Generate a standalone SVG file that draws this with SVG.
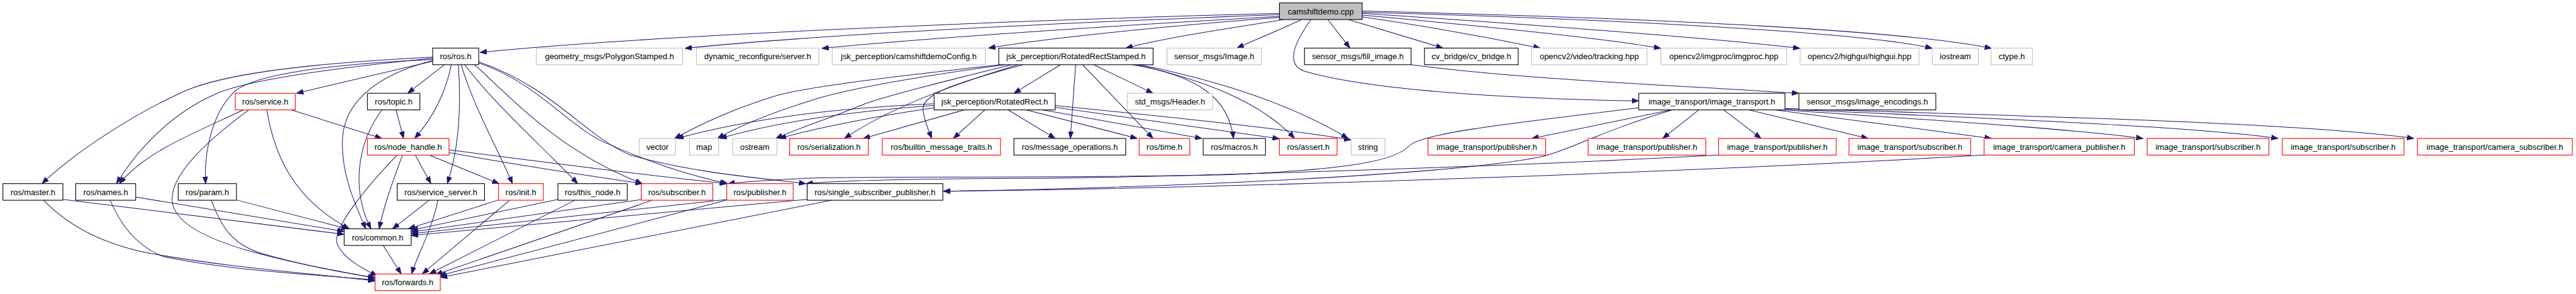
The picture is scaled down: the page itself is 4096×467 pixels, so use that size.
<svg xmlns="http://www.w3.org/2000/svg" width="4096" height="467" viewBox="0 0 4096 467">
<style>
.n rect{fill:#ffffff;stroke-width:1.2}
.blk rect{stroke:#000000}
.red rect{stroke:#ff0000}
.gry rect{stroke:#bfbfbf}
.root rect{fill:#bfbfbf;stroke:#000000}
.n text{font-family:"Liberation Sans",Arial,sans-serif;font-size:14px;fill:#000000;text-anchor:middle}
.e path{fill:none;stroke:#191970;stroke-width:1.1;marker-end:url(#ah)}
</style>
<defs>
<marker id="ah" viewBox="0 0 12 9" refX="12" refY="4.5" markerWidth="12" markerHeight="9" orient="auto" markerUnits="userSpaceOnUse">
<path d="M0,0 L12,4.5 L0,9 z" fill="#191970" stroke="#191970" stroke-width="0.8"/>
</marker>
</defs>
<rect x="0" y="0" width="4096" height="467" fill="#ffffff"/>
<g transform="scale(0.926)">
<g id="connectors" class="e">
<path d="M2197,23 C1700,36 1100,62 824,90"/>
<path d="M2197,25 C1800,40 1400,60 1176,83"/>
<path d="M2197,28 C1900,45 1600,65 1411,83"/>
<path d="M2197,30 C2000,45 1800,65 1697,82.5"/>
<path d="M2205,33.5 C2100,50 2000,65 1933,82.5"/>
<path d="M2235,33.5 C2190,55 2150,70 2124,82.5"/>
<path d="M2251,33.5 C2225,70 2205,110 2240,122 C2350,155 2600,170 2814,173"/>
<path d="M2280,33.5 L2318,82.5"/>
<path d="M2315,33.5 L2478,82.5"/>
<path d="M2339,29 C2450,45 2560,65 2645,82.5"/>
<path d="M2339,26 C2550,45 2750,65 2852,83"/>
<path d="M2339,23 C2600,40 2950,66 3091,83"/>
<path d="M2339,21 C2750,32 3200,55 3318,83"/>
<path d="M2339,19 C2800,30 3260,50 3420,83"/>
<path d="M2423,111 C2600,135 2850,145 3089,160"/>
<path d="M743,98 C500,110 380,130 320,155 C230,195 130,260 72,315"/>
<path d="M743,100 C560,118 430,138 378,158 C300,190 240,250 200,315"/>
<path d="M743,102 C560,110 440,128 405,155 C365,190 350,260 353,315"/>
<path d="M743,105 L509,160"/>
<path d="M763,111 L700,160"/>
<path d="M775,111 C765,160 745,200 712,237.5"/>
<path d="M743,104 C640,130 590,180 588,240 C586,300 610,350 628,392.5"/>
<path d="M787,111 C792,180 790,250 768,315"/>
<path d="M792,111 C812,180 852,250 880,315"/>
<path d="M798,111 C850,180 930,250 992,315"/>
<path d="M815,111 C880,170 960,260 1103,315"/>
<path d="M822,108 C920,140 980,220 1040,245 C1120,280 1180,300 1250,315"/>
<path d="M822,106 C950,150 1000,230 1080,265 C1180,295 1300,305 1384,315"/>
<path d="M418,188.5 C330,230 250,260 205,315"/>
<path d="M427,188.5 C330,260 280,320 300,360 C330,420 500,450 644,477"/>
<path d="M458,188.5 C470,260 500,340 600,392.5"/>
<path d="M500,188.5 L656,237.5"/>
<path d="M656,188.5 C610,250 605,330 637,392.5"/>
<path d="M680,188.5 L693,237.5"/>
<path d="M682,266 C620,330 575,390 578,415 C585,440 620,460 648,473"/>
<path d="M691,266 C675,310 660,350 651,392.5"/>
<path d="M713,266 L740,315"/>
<path d="M737,266 L857,315"/>
<path d="M771,262 C900,285 1000,300 1103,315"/>
<path d="M771,257 C950,280 1100,300 1248,315"/>
<path d="M108,342 L591,402"/>
<path d="M75,343.5 C120,390 180,420 260,435 C400,460 550,470 644,482"/>
<path d="M233,338 L591,397"/>
<path d="M189,343.5 C205,380 230,420 280,440 C400,465 550,472 644,480"/>
<path d="M406,343 L598,393"/>
<path d="M363,343.5 C380,390 400,420 450,435 C520,455 590,468 644,476"/>
<path d="M737,343.5 L674,392.5"/>
<path d="M752,343.5 C740,400 715,440 707,470"/>
<path d="M856,343 L701,392.5"/>
<path d="M875,343.5 L725,470"/>
<path d="M958,342 L706,395"/>
<path d="M987,343.5 L737,470"/>
<path d="M1103,342 L706,398"/>
<path d="M1120,343.5 L748,471"/>
<path d="M1249,342 L706,401"/>
<path d="M1247,343.5 L754,473"/>
<path d="M1386,342 L706,404"/>
<path d="M1428,343.5 L756,476"/>
<path d="M658,421 L689,470"/>
<path d="M1717,111 C1500,135 1380,150 1330,165 C1250,190 1200,215 1158,237.5"/>
<path d="M1725,111 C1550,135 1450,155 1400,170 C1320,195 1270,215 1232,237.5"/>
<path d="M1737,111 C1620,140 1520,165 1480,180 C1420,205 1370,220 1332,237.5"/>
<path d="M1748,111 C1620,150 1520,190 1450,237.5"/>
<path d="M1757,111 C1650,140 1580,160 1585,190 C1588,210 1595,225 1600,237.5"/>
<path d="M1821,111 L1741,160"/>
<path d="M1847,111 L1838,237.5"/>
<path d="M1859,111 L1980,237.5"/>
<path d="M1878,111 L1980,160"/>
<path d="M1944,111 C2060,130 2110,170 2118,237.5"/>
<path d="M1951,111 C2080,140 2170,180 2223,237.5"/>
<path d="M1957,111 C2100,140 2220,180 2315,237.5"/>
<path d="M1604,178 C1450,185 1300,200 1162,237.5"/>
<path d="M1604,181 C1450,192 1330,210 1236,237.5"/>
<path d="M1604,185 C1500,200 1400,220 1338,237.5"/>
<path d="M1656,188.5 L1482,237.5"/>
<path d="M1691,188.5 L1637,237.5"/>
<path d="M1731,188.5 L1812,237.5"/>
<path d="M1762,188.5 L1953,237.5"/>
<path d="M1790,188.5 L2064,237.5"/>
<path d="M1812,184 L2197,238"/>
<path d="M1812,181 C2000,200 2200,220 2320,240"/>
<path d="M2870,188.5 L2630,237.5"/>
<path d="M2917,188.5 L2855,237.5"/>
<path d="M2960,188.5 L3024,237.5"/>
<path d="M3003,188.5 L3208,237.5"/>
<path d="M3047,188.5 L3420,237.5"/>
<path d="M3062,188.5 C3300,205 3550,220 3680,237.5"/>
<path d="M3065,187 C3400,203 3750,215 3912,237.5"/>
<path d="M3065,186 C3500,200 3950,210 4145,237.5"/>
<path d="M2814,185 C2560,215 2440,230 2420,250 C2395,278 2300,292 2100,300 C1800,306 1450,302 1380,306 C1320,309 1280,311 1250,315"/>
<path d="M2951,266 C2600,285 2000,305 1750,306 C1550,307 1440,310 1384,315"/>
<path d="M2870,189 C2750,225 2700,255 2650,268 C2500,300 2000,322 1620,328"/>
<path d="M3407,266 C3000,290 2200,322 1620,328"/>
</g>
<g id="n_camshiftdemo" class="n root"><rect x="2197" y="5" width="142" height="28.5"/><text x="2268" y="24.5">camshiftdemo.cpp</text></g>
<g id="n_ros_ros" class="n blk"><rect x="743" y="82.5" width="79" height="28.5"/><text x="782.5" y="102">ros/ros.h</text></g>
<g id="n_polygonstamped" class="n gry"><rect x="921" y="82.5" width="251" height="28.5"/><text x="1046.5" y="102">geometry_msgs/PolygonStamped.h</text></g>
<g id="n_dynreconf" class="n gry"><rect x="1196" y="82.5" width="210" height="28.5"/><text x="1301" y="102">dynamic_reconfigure/server.h</text></g>
<g id="n_camshiftconfig" class="n gry"><rect x="1429" y="82.5" width="263" height="28.5"/><text x="1560.5" y="102">jsk_perception/camshiftdemoConfig.h</text></g>
<g id="n_rrstamped" class="n blk"><rect x="1715" y="82.5" width="265" height="28.5"/><text x="1847.5" y="102">jsk_perception/RotatedRectStamped.h</text></g>
<g id="n_image" class="n gry"><rect x="2004" y="82.5" width="162" height="28.5"/><text x="2085" y="102">sensor_msgs/Image.h</text></g>
<g id="n_fillimage" class="n blk"><rect x="2240" y="82.5" width="183" height="28.5"/><text x="2331.5" y="102">sensor_msgs/fill_image.h</text></g>
<g id="n_cvbridge" class="n blk"><rect x="2446" y="82.5" width="161" height="28.5"/><text x="2526.5" y="102">cv_bridge/cv_bridge.h</text></g>
<g id="n_tracking" class="n gry"><rect x="2630" y="82.5" width="198" height="28.5"/><text x="2729" y="102">opencv2/video/tracking.hpp</text></g>
<g id="n_imgproc" class="n gry"><rect x="2852" y="82.5" width="216" height="28.5"/><text x="2960" y="102">opencv2/imgproc/imgproc.hpp</text></g>
<g id="n_highgui" class="n gry"><rect x="3091" y="82.5" width="204" height="28.5"/><text x="3193" y="102">opencv2/highgui/highgui.hpp</text></g>
<g id="n_iostream" class="n gry"><rect x="3318" y="82.5" width="79" height="28.5"/><text x="3357.5" y="102">iostream</text></g>
<g id="n_ctype" class="n gry"><rect x="3419" y="82.5" width="71" height="28.5"/><text x="3454.5" y="102">ctype.h</text></g>
<g id="n_service" class="n red"><rect x="404" y="160" width="103" height="28.5"/><text x="455.5" y="179.5">ros/service.h</text></g>
<g id="n_topic" class="n blk"><rect x="631" y="160" width="90" height="28.5"/><text x="676" y="179.5">ros/topic.h</text></g>
<g id="n_rotatedrect" class="n blk"><rect x="1604" y="160" width="208" height="28.5"/><text x="1708" y="179.5">jsk_perception/RotatedRect.h</text></g>
<g id="n_header" class="n gry"><rect x="1936" y="160" width="146" height="28.5"/><text x="2009" y="179.5">std_msgs/Header.h</text></g>
<g id="n_imagetransport" class="n blk"><rect x="2814" y="160" width="251" height="28.5"/><text x="2939.5" y="179.5">image_transport/image_transport.h</text></g>
<g id="n_encodings" class="n blk"><rect x="3089" y="160" width="235" height="28.5"/><text x="3206.5" y="179.5">sensor_msgs/image_encodings.h</text></g>
<g id="n_nodehandle" class="n red"><rect x="631" y="237.5" width="140" height="28.5"/><text x="701" y="257">ros/node_handle.h</text></g>
<g id="n_vector" class="n gry"><rect x="1098" y="237.5" width="62" height="28.5"/><text x="1129" y="257">vector</text></g>
<g id="n_map" class="n gry"><rect x="1184" y="237.5" width="50" height="28.5"/><text x="1209" y="257">map</text></g>
<g id="n_ostream" class="n gry"><rect x="1258" y="237.5" width="76" height="28.5"/><text x="1296" y="257">ostream</text></g>
<g id="n_serialization" class="n red"><rect x="1356" y="237.5" width="135" height="28.5"/><text x="1423.5" y="257">ros/serialization.h</text></g>
<g id="n_builtin" class="n red"><rect x="1515" y="237.5" width="203" height="28.5"/><text x="1616.5" y="257">ros/builtin_message_traits.h</text></g>
<g id="n_msgops" class="n blk"><rect x="1741" y="237.5" width="192" height="28.5"/><text x="1837" y="257">ros/message_operations.h</text></g>
<g id="n_time" class="n red"><rect x="1956" y="237.5" width="87" height="28.5"/><text x="1999.5" y="257">ros/time.h</text></g>
<g id="n_macros" class="n blk"><rect x="2066" y="237.5" width="107" height="28.5"/><text x="2119.5" y="257">ros/macros.h</text></g>
<g id="n_assert" class="n red"><rect x="2197" y="237.5" width="99" height="28.5"/><text x="2246.5" y="257">ros/assert.h</text></g>
<g id="n_string" class="n gry"><rect x="2320" y="237.5" width="58" height="28.5"/><text x="2349" y="257">string</text></g>
<g id="n_itpub1" class="n red"><rect x="2452" y="237.5" width="202" height="28.5"/><text x="2553" y="257">image_transport/publisher.h</text></g>
<g id="n_itpub2" class="n red"><rect x="2727" y="237.5" width="202" height="28.5"/><text x="2828" y="257">image_transport/publisher.h</text></g>
<g id="n_itpub3" class="n red"><rect x="2951" y="237.5" width="202" height="28.5"/><text x="3052" y="257">image_transport/publisher.h</text></g>
<g id="n_itsub1" class="n red"><rect x="3175" y="237.5" width="209" height="28.5"/><text x="3279.5" y="257">image_transport/subscriber.h</text></g>
<g id="n_itcampub" class="n red"><rect x="3407" y="237.5" width="258" height="28.5"/><text x="3536" y="257">image_transport/camera_publisher.h</text></g>
<g id="n_itsub2" class="n red"><rect x="3687" y="237.5" width="209" height="28.5"/><text x="3791.5" y="257">image_transport/subscriber.h</text></g>
<g id="n_itsub3" class="n red"><rect x="3919" y="237.5" width="209" height="28.5"/><text x="4023.5" y="257">image_transport/subscriber.h</text></g>
<g id="n_itcamsub" class="n red"><rect x="4151" y="237.5" width="266" height="28.5"/><text x="4284" y="257">image_transport/camera_subscriber.h</text></g>
<g id="n_master" class="n blk"><rect x="5" y="315" width="103" height="28.5"/><text x="56.5" y="334.5">ros/master.h</text></g>
<g id="n_names" class="n blk"><rect x="130" y="315" width="103" height="28.5"/><text x="181.5" y="334.5">ros/names.h</text></g>
<g id="n_param" class="n blk"><rect x="306" y="315" width="100" height="28.5"/><text x="356" y="334.5">ros/param.h</text></g>
<g id="n_serviceserver" class="n blk"><rect x="682" y="315" width="150" height="28.5"/><text x="757" y="334.5">ros/service_server.h</text></g>
<g id="n_init" class="n red"><rect x="856" y="315" width="77" height="28.5"/><text x="894.5" y="334.5">ros/init.h</text></g>
<g id="n_thisnode" class="n blk"><rect x="958" y="315" width="119" height="28.5"/><text x="1017.5" y="334.5">ros/this_node.h</text></g>
<g id="n_subscriber" class="n red"><rect x="1101" y="315" width="123" height="28.5"/><text x="1162.5" y="334.5">ros/subscriber.h</text></g>
<g id="n_publisher" class="n red"><rect x="1248" y="315" width="114" height="28.5"/><text x="1305" y="334.5">ros/publisher.h</text></g>
<g id="n_singlesubpub" class="n blk"><rect x="1386" y="315" width="233" height="28.5"/><text x="1502.5" y="334.5">ros/single_subscriber_publisher.h</text></g>
<g id="n_common" class="n blk"><rect x="591" y="392.5" width="115" height="28.5"/><text x="648.5" y="412">ros/common.h</text></g>
<g id="n_forwards" class="n red"><rect x="644" y="470" width="112" height="28.5"/><text x="700" y="489.5">ros/forwards.h</text></g>
</g>
</svg>
